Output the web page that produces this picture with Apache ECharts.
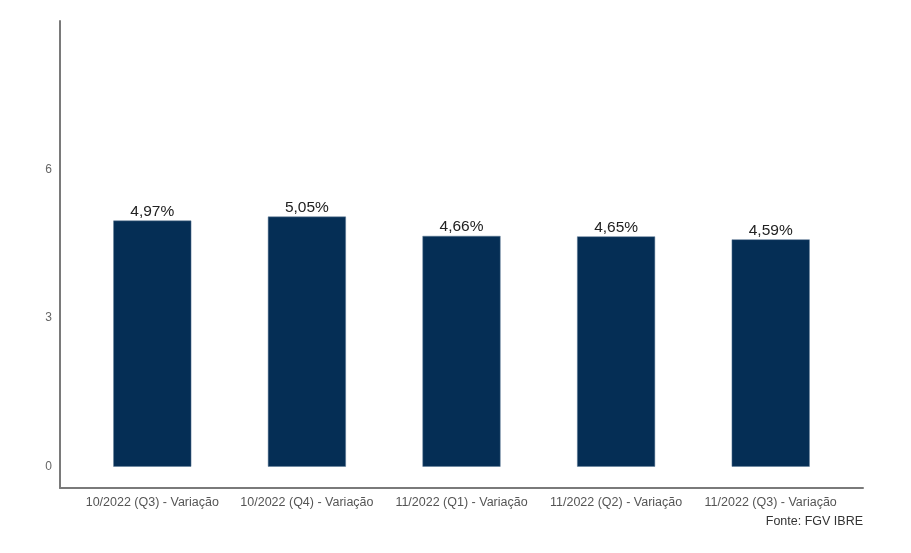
<!DOCTYPE html>
<html>
<head>
    <meta charset="UTF-8">
    <title>Variação</title>
    <style>
        html, body { margin: 0; padding: 0; background: #fff; }
        #chart { width: 911px; height: 553px; }
    </style>
    <script src="https://cdn.jsdelivr.net/npm/echarts@6/dist/echarts.min.js"></script>
</head>
<body>
<div id="chart"></div>
<script>
    var categories = ['10/2022 (Q3) - Variação', '10/2022 (Q4) - Variação', '11/2022 (Q1) - Variação',
        '11/2022 (Q2) - Variação', '11/2022 (Q3) - Variação'];
    var values = [4.97, 5.05, 4.66, 4.65, 4.59];
    var yTicks = [0, 3, 6];

    var font = 'Liberation Sans, Arial, sans-serif';
    var chart = echarts.init(document.getElementById('chart'));
    var option = {
        backgroundColor: '#fff',
        animation: false,
        grid: [
            {left: 75, right: 63, top: 21, bottom: 65},
            // outer frame for the axis lines (ggplot-like expand)
            {left: 60, right: 48, top: 21, bottom: 65}
        ],
        title: {
            text: 'Fonte: FGV IBRE',
            right: 43,
            top: 510,
            textStyle: {fontFamily: font, fontSize: 12.5, fontWeight: 'normal', color: '#333'}
        },
        xAxis: [
            {
                type: 'category',
                gridIndex: 0,
                data: categories,
                axisLine: {show: false},
                axisTick: {show: false},
                axisLabel: {
                    interval: 0,
                    margin: 8,
                    fontFamily: font,
                    fontSize: 12.5,
                    color: '#555'
                }
            },
            {
                type: 'value',
                gridIndex: 1,
                min: 0,
                max: 1,
                axisLine: {show: true, lineStyle: {color: '#7a7a7a', width: 2}},
                axisTick: {show: false},
                axisLabel: {show: false},
                splitLine: {show: false}
            }
        ],
        yAxis: [
            {
                type: 'value',
                gridIndex: 0,
                min: -0.43,
                max: 9,
                axisLine: {show: false},
                axisTick: {show: false},
                splitLine: {show: false},
                axisLabel: {
                    customValues: yTicks,
                    margin: 23,
                    fontFamily: font,
                    fontSize: 12,
                    color: '#666'
                }
            },
            {
                type: 'value',
                gridIndex: 1,
                min: 0,
                max: 1,
                axisLine: {show: true, lineStyle: {color: '#7a7a7a', width: 2}},
                axisTick: {show: false},
                axisLabel: {show: false},
                splitLine: {show: false}
            }
        ],
        series: [
            {
                type: 'bar',
                xAxisIndex: 0,
                yAxisIndex: 0,
                data: values,
                barWidth: 78,
                itemStyle: {color: '#052e55', borderColor: '#5f7a96', borderWidth: 0.5},
                label: {
                    show: true,
                    position: 'top',
                    distance: 1,
                    fontFamily: font,
                    fontSize: 15.5,
                    color: '#222',
                    formatter: function (p) {
                        return p.value.toFixed(2).replace('.', ',') + '%';
                    }
                }
            }
        ]
    };
    chart.setOption(option);
</script>
</body>
</html>
